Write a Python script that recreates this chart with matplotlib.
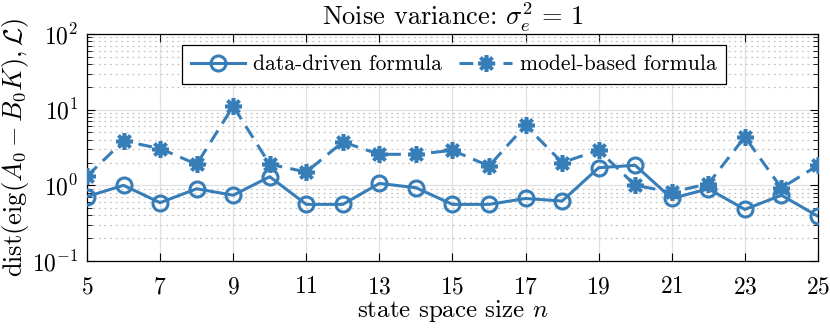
import matplotlib
matplotlib.use("Agg")
import matplotlib.pyplot as plt
import numpy as np

n = np.arange(5, 26)
data_driven = [0.71, 1.0, 0.59, 0.90, 0.74, 1.30, 0.56, 0.56, 1.06, 0.93, 0.56,
               0.56, 0.67, 0.62, 1.71, 1.84, 0.67, 0.90, 0.48, 0.74, 0.39]
model_based = [1.32, 3.86, 3.06, 1.9, 11.1, 1.9, 1.5, 3.74, 2.57, 2.57, 2.9,
               1.8, 6.2, 2.0, 2.9, 1.0, 0.81, 1.05, 4.37, 0.92, 1.84]
xticks = list(range(5, 26, 2))

plt.rcParams['font.family'] = 'cmr10'
plt.rcParams['mathtext.fontset'] = 'cm'
plt.rcParams['axes.formatter.use_mathtext'] = True
plt.rcParams['axes.unicode_minus'] = False

blue = '#377eb8'
fig = plt.figure(figsize=(8.3, 3.31), dpi=100)
ax = fig.add_axes([0.1048, 0.2115, 0.8807, 0.6858])

ax.plot(n, data_driven, '-o', color=blue, lw=2.2, ms=10.8, mew=2.2,
        mfc='none', label='data-driven formula', zorder=3)
ax.plot(n, model_based, '--', marker=(8, 2, 0), color=blue, lw=2.2, ms=12,
        mew=2.6, dashes=(4.5, 2.7), label='model-based formula', zorder=3)

ax.set_yscale('log')
ax.set_ylim(0.1, 100)
ax.set_xlim(5, 25)
ax.set_xticks(xticks)
ax.grid(True, which='major', color='#e0e0e0', lw=0.9)
ax.grid(True, which='minor', axis='y', color='#c4c4c4', lw=0.9, ls=(0, (1.5, 3)))
ax.tick_params(which='both', direction='in', top=True, right=True, labelsize=17)
ax.tick_params(which='major', length=6)
ax.tick_params(which='minor', length=3.5)
ax.tick_params(axis='x', pad=11)
ax.tick_params(axis='y', pad=6)
for s in ax.spines.values():
    s.set_linewidth(0.9)

ax.set_title(r'Noise variance: $\sigma_e^2 \,=\, 1$', fontsize=19, pad=5)
ax.set_xlabel(r'state space size $n$', fontsize=18, labelpad=0)
ax.set_ylabel(r'$\mathrm{dist}(\mathrm{eig}(A_0 - B_0 K), \mathcal{L})$', fontsize=19,
              labelpad=1)

leg = ax.legend(loc='upper center', ncol=2, fontsize=15.5, fancybox=False,
                edgecolor='black', framealpha=1, handlelength=2.5,
                handletextpad=0.35, borderpad=0.45, columnspacing=0.8,
                borderaxespad=0, bbox_to_anchor=(0.502, 0.952))
leg.get_frame().set_linewidth(0.9)

fig.savefig('out.png', dpi=100)
